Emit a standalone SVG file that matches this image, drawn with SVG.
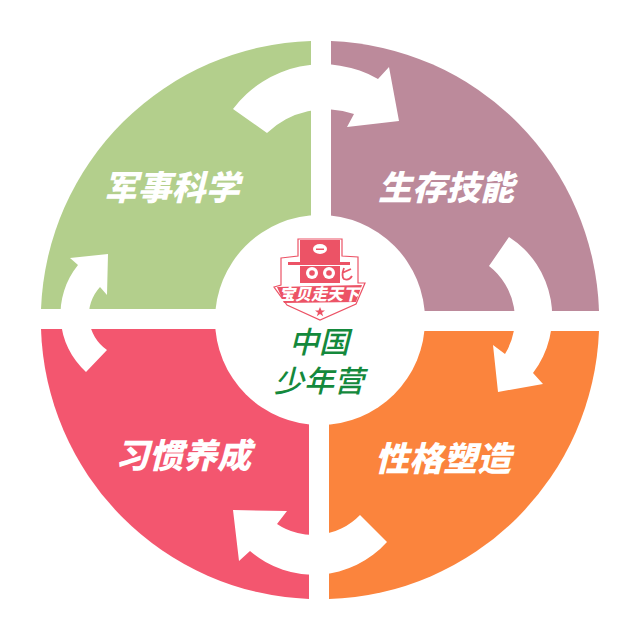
<svg xmlns="http://www.w3.org/2000/svg" width="640" height="640" viewBox="0 0 640 640">
<style>
.lbl{font-family:"Noto Sans CJK SC","Liberation Sans",sans-serif;font-weight:900;font-style:italic;font-size:34px;fill:#fff;text-anchor:middle}
.cn{font-family:"Noto Sans CJK SC","Liberation Sans",sans-serif;font-weight:500;font-style:italic;font-size:30px;fill:#14893c;text-anchor:middle}
.arrow{fill:#fff}
.red{fill:#ec5366}
.line{fill:#fff;stroke:#ec5366;stroke-width:1.200}
</style>
<rect width="640" height="640" fill="#fff"/>
<g id="quadrant-green"><path d="M311 41A279 279 0 0 0 41 309H311Z" fill="#b3cf8c"/><text class="lbl" x="171.500" y="200">军事科学</text></g>
<g id="quadrant-purple"><path d="M331 41A279 279 0 0 1 599 311H331Z" fill="#bc8a9b"/><text class="lbl" x="446" y="200">生存技能</text></g>
<g id="quadrant-orange"><path d="M599 331A279 279 0 0 1 329 599V331Z" fill="#fb843d"/><text class="lbl" x="443" y="471">性格塑造</text></g>
<g id="quadrant-red"><path d="M41 329A279 279 0 0 0 309 599V329Z" fill="#f3566f"/><text class="lbl" x="183" y="468">习惯养成</text></g>
<g id="connectors">
<path class="arrow" d="M233 109A112 112 0 0 1 378 79L389 67L399 121L347 127L354 114A85 85 0 0 0 267 133Z"/>
<path class="arrow" d="M509 237A94 94 0 0 1 533 373L543 384L498 392L493 345L505 354A67 67 0 0 0 489 266Z"/>
<path class="arrow" d="M387 542A98 98 0 0 1 250 551L239 561L233 510L287 511L277 524A65 65 0 0 0 360 515Z"/>
<path class="arrow" d="M86 372A78 78 0 0 1 78 265L70 258L108 254L107 295L100 287A42 42 0 0 0 107 350Z"/>
</g>
<g id="center">
<circle cx="320" cy="320" r="105" fill="#fff"/>
<g id="logo">
<path class="line" d="M281 258L298 256V239H342V256L358 257V283L365 283L356 304L320 320L287 305L274 287L281 285Z"/>
<path class="red" d="M300 240H340V262H300Z"/>
<ellipse cx="320" cy="249" rx="7" ry="5" fill="#fff"/>
<path class="red" d="M316 248.500h8v1.500h-8z"/>
<path class="red" d="M288 262H350V265H288Z"/>
<path class="red" d="M300 266H340V283H300Z"/>
<circle cx="312" cy="273" r="6" fill="#fff"/><circle cx="312" cy="273" r="2.800" class="red"/>
<circle cx="329" cy="273" r="6" fill="#fff"/><circle cx="329" cy="273" r="2.800" class="red"/>
<path d="M344 268Q341 276 344 279Q349 281 352 276M342 273L351 269" fill="none" stroke="#ec5366" stroke-width="1.800"/>
<path class="red" d="M277 287L362 285L356 302L284 303Z"/>
<text x="319" y="300" font-family="'Noto Sans CJK SC',sans-serif" font-weight="900" font-style="italic" font-size="16" fill="#fff" text-anchor="middle">宝贝走天下</text>
<path class="red" d="M320 307l1.500 3.500h3.500l-3 2.200 1.200 3.600-3.200-2.200-3.200 2.200 1.200-3.600-3-2.200h3.500z"/>
</g>
<text class="cn" x="319" y="353">中国</text>
<text class="cn" x="319" y="392">少年营</text>
</g>
</svg>
